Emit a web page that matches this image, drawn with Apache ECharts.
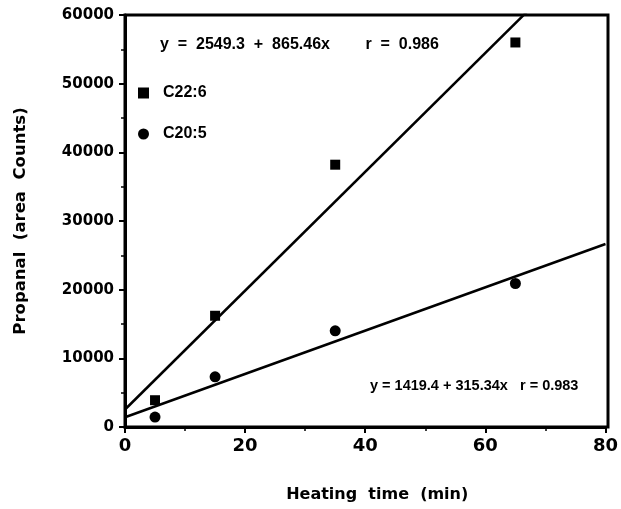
<!DOCTYPE html>
<html><head><meta charset="utf-8">
<script src="https://cdn.jsdelivr.net/npm/echarts@6/dist/echarts.min.js"></script>
<style>html,body{margin:0;padding:0;background:#fff}#c{width:621px;height:509px}</style>
</head><body><div id="c"></div>
<script>
const times = [5, 15, 35, 65];
const c226 = [3900, 16200, 38200, 56000];
const c205 = [1450, 7300, 14000, 20900];
const fit226 = [2549.3, 865.46];
const fit205 = [1419.4, 315.34];
const fitRange = [0, 80];
const eq226 = 'y  =  2549.3  +  865.46x        r  =  0.986';
const eq205 = 'y = 1419.4 + 315.34x   r = 0.983';
const F = '"Liberation Sans", Arial, sans-serif';
const D = '"DejaVu Sans", sans-serif';
const chart = echarts.init(document.getElementById('c'));
const line = (f) => fitRange.map(x => [x, f[0] + f[1] * x]);
chart.setOption({
  animation: false,
  grid: {left: 125, right: 13, top: 15, bottom: 82, show: false},
  legend: {
    orient: 'vertical', left: 133, top: 80, itemGap: 25, itemWidth: 11, itemHeight: 11,
    textStyle: {fontFamily: F, fontWeight: 'bold', fontSize: 16, color: '#000', padding: [0, 0, 0, 9]},
    data: [{name: 'C22:6', icon: 'rect'}, {name: 'C20:5', icon: 'circle'}]
  },
  xAxis: {
    type: 'value', min: 0, max: 80, interval: 20,
    name: 'Heating  time  (min)', nameLocation: 'middle', nameGap: 60,
    nameTextStyle: {fontFamily: D, fontWeight: 'bold', fontSize: 16, color: '#000', padding: [0, 0, 0, 24]},
    axisLine: {show: true, lineStyle: {color: '#000', width: 3}},
    axisTick: {show: true, length: 6, lineStyle: {color: '#000', width: 2}},
    minorTick: {show: true, splitNumber: 2, length: 4, lineStyle: {color: '#000', width: 1.5}},
    splitLine: {show: false},
    axisLabel: {fontFamily: D, fontWeight: 'bold', fontSize: 18, color: '#000', margin: 10}
  },
  yAxis: {
    type: 'value', min: 0, max: 60000, interval: 10000,
    name: 'Propanal  (area  Counts)', nameLocation: 'middle', nameGap: 96,
    nameTextStyle: {fontFamily: D, fontWeight: 'bold', fontSize: 16.5, color: '#000'},
    axisLine: {show: true, lineStyle: {color: '#000', width: 3}},
    axisTick: {show: true, length: 6, lineStyle: {color: '#000', width: 2}},
    minorTick: {show: true, splitNumber: 2, length: 4, lineStyle: {color: '#000', width: 1.5}},
    splitLine: {show: false},
    axisLabel: {fontFamily: D, fontWeight: 'bold', fontSize: 15, color: '#000', margin: 11,
                formatter: v => String(v)}
  },
  graphic: [
    {type: 'rect', shape: {x: 125, y: 15, width: 483, height: 412}, style: {fill: 'none', stroke: '#000', lineWidth: 3}, z: 10},
    {type: 'text', left: 160, top: 37, style: {text: eq226, font: 'bold 16px ' + F, fill: '#000'}},
    {type: 'text', left: 370, top: 378, style: {text: eq205, font: 'bold 14.5px ' + F, fill: '#000'}}
  ],
  series: [
    {name: 'C22:6', type: 'scatter', data: times.map((t, i) => [t, c226[i]]), symbol: 'rect', symbolSize: 10,
     itemStyle: {color: '#000', opacity: 1}, z: 5},
    {name: 'C20:5', type: 'scatter', data: times.map((t, i) => [t, c205[i]]), symbol: 'circle', symbolSize: 11,
     itemStyle: {color: '#000', opacity: 1}, z: 5},
    {name: 'fit226', type: 'line', data: line(fit226), showSymbol: false, symbol: 'none', clip: true,
     lineStyle: {color: '#000', width: 2.5}, silent: true},
    {name: 'fit205', type: 'line', data: line(fit205), showSymbol: false, symbol: 'none', clip: true,
     lineStyle: {color: '#000', width: 2.5}, silent: true}
  ]
});
</script></body></html>
